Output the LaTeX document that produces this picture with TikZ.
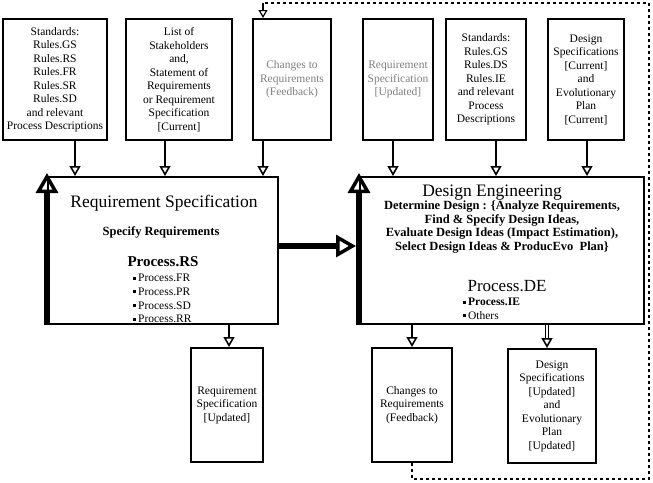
\documentclass[tikz,border=0pt]{standalone}
\usepackage{fontspec}
\setmainfont{Liberation Serif}
\usetikzlibrary{arrows.meta,positioning,calc}
\definecolor{ink}{HTML}{000000}
\definecolor{faded}{HTML}{808080}
\tikzset{
  >=Latex,
  every node/.style={font=\fontsize{11.5}{13.5}\selectfont,text=ink},
  docbox/.style={draw=ink,line width=2pt,fill=white,align=center,inner sep=2pt},
  fadedbox/.style={docbox,text=faded},
  procbox/.style={draw=ink,line width=2pt,fill=white},
  headline/.style={font=\fontsize{17.5}{20}\selectfont,inner sep=0pt},
  task/.style={font=\fontsize{12.5}{13.5}\selectfont\bfseries,align=center,inner sep=0pt},
  bullets/.style={align=left,anchor=north west,inner sep=0pt,font=\fontsize{11.5}{13.7}\selectfont},
  input/.style={-{Triangle[open,width=11pt,length=10pt,line width=1.6pt]},line width=2.5pt,draw=ink},
  dbl/.style={input,double,double distance=1.6pt,line width=1pt},
  bigarrow/.style={-{Triangle[open,width=22pt,length=20pt,line width=3.5pt]},line width=6pt,draw=ink},
  feedback/.style={line width=1.2pt,dashed,draw=ink},
  fbtip/.style={-{Triangle[open,width=9pt,length=8pt,line width=1.2pt]},line width=1.2pt,draw=ink},
}
\newcommand{\bul}{\rule[2pt]{3pt}{3pt}\,}

\begin{document}
\begin{tikzpicture}[x=1pt,y=-1pt]
\useasboundingbox (0,0) rectangle (653,482);

% inputs along the top
\node[docbox,minimum width=104pt,minimum height=121pt] (stdrs) at (55,79.5)
{Standards:\\Rules.GS\\Rules.RS\\Rules.FR\\Rules.SR\\Rules.SD\\and relevant\\Process Descriptions};
\node[docbox,minimum width=106pt,minimum height=121pt] (stake) at (179,79.5)
{List of\\Stakeholders\\and,\\Statement of\\Requirements\\or Requirement\\Specification\\{[Current]}};
\node[fadedbox,minimum width=78pt,minimum height=121pt] (chgin) at (292,79.5)
{Changes to\\Requirements\\(Feedback)};
\node[fadedbox,minimum width=70pt,minimum height=121pt] (rsin) at (398,79.5)
{Requirement\\Specification\\{[Updated]}};
\node[docbox,minimum width=80pt,minimum height=121pt] (stdde) at (486,79.5)
{Standards:\\Rules.GS\\Rules.DS\\Rules.IE\\and relevant\\Process\\Descriptions};
\node[docbox,minimum width=76pt,minimum height=121pt] (dsin) at (586,79.5)
{Design\\Specifications\\{[Current]}\\and\\Evolutionary\\Plan\\{[Current]}};

% the two processes
\node[procbox,minimum width=230pt,minimum height=147pt] (rs) at (163,250.5) {};
\node[headline] (rstitle) at (164,203) {Requirement Specification};
\node[task] (rstask) at (161,232) {Specify Requirements};
\node[font=\fontsize{15}{17}\selectfont\bfseries,inner sep=0pt] (rsproc) at (163,262) {Process.RS};
\node[bullets] (rslist) at (133,274)
{\bul Process.FR\\\bul Process.PR\\\bul Process.SD\\\bul Process.RR};

\node[procbox,minimum width=284pt,minimum height=147pt] (de) at (502,250.5) {};
\node[headline] (detitle) at (492,193) {Design Engineering};
\node[task] (detask) at (502,227)
{Determine Design : \{Analyze Requirements,\\Find \& Specify Design Ideas,\\Evaluate Design Ideas (Impact Estimation),\\Select Design Ideas \& ProducEvo\ \ Plan\}};
\node[font=\fontsize{17}{19}\selectfont,inner sep=0pt] (deproc) at (507,286) {Process.DE};
\node[bullets] (delist) at (463,298)
{\bul\textbf{Process.IE}\\\bul Others};

% outputs
\node[docbox,minimum width=72pt,minimum height=114pt] (rsout) at (227,405)
{Requirement\\Specification\\{[Updated]}};
\node[docbox,minimum width=80pt,minimum height=114pt] (chgout) at (412,405)
{Changes to\\Requirements\\(Feedback)};
\node[docbox,minimum width=88pt,minimum height=114pt] (dsout) at (552,406)
{Design\\Specifications\\{[Updated]}\\and\\Evolutionary\\Plan\\{[Updated]}};

% connectors
\draw[input] (stdrs.south -| 75,0) -- (rs.north -| 75,0);
\draw[input] (stake.south -| 165,0) -- (rs.north -| 165,0);
\draw[input] (chgin.south -| 263,0) -- (rs.north -| 263,0);
\draw[input] (rsin.south -| 393,0) -- (de.north -| 393,0);
\draw[input] (stdde.south -| 496,0) -- (de.north -| 496,0);
\draw[input] (dsin.south -| 587,0) -- (de.north -| 587,0);

\draw[bigarrow] (rs.south west) -- ($(rs.north west)+(0,-3)$);
\draw[bigarrow] (de.south west) -- ($(de.north west)+(0,-3)$);
\draw[bigarrow,shorten >=3pt] (rs.east |- 0,246) -- (de.west |- 0,246);

\draw[input] (rs.south -| 229,0) -- (rsout.north -| 229,0);
\draw[input] (de.south -| 412,0) -- (chgout.north);
\draw[dbl] (de.south -| 547,0) -- (dsout.north -| 547,0);

% feedback loop
\coordinate (fbin) at (263,18);
\coordinate (fbtop) at (263,3);
\coordinate (fbright) at (649,3);
\coordinate (fbbottom) at (649,479);
\draw[feedback] (chgout.south) -- (chgout.south |- fbbottom) -- (fbbottom) -- (fbright)
  -- (fbtop);
\draw[fbtip] (fbtop) -- (fbin);

\end{tikzpicture}
\end{document}
